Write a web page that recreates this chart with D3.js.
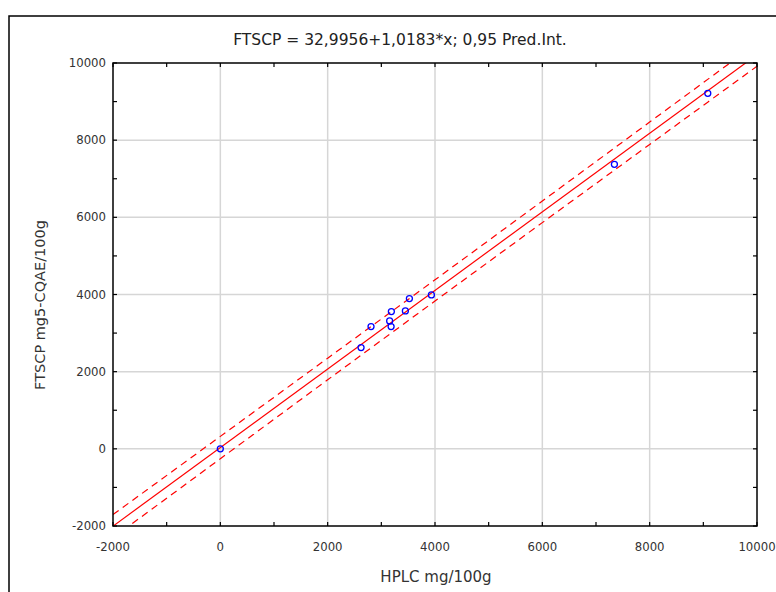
<!DOCTYPE html>
<html>
<head>
<meta charset="utf-8">
<title>FTSCP vs HPLC</title>
<script src="https://cdnjs.cloudflare.com/ajax/libs/d3/7.8.5/d3.min.js"></script>
<style>
  body { margin: 0; background: #fff; }
  text { font-family: "DejaVu Sans Condensed", "DejaVu Sans", sans-serif; }
  .lbl { font-family: "DejaVu Sans", sans-serif; }
</style>
</head>
<body>
<svg id="chart" width="776" height="592"></svg>
<script>
// measured points (HPLC, FTSCP)
var hplc  = [0, 2622, 2808, 3155, 3182, 3187, 3448, 3523, 3933, 7343, 9083];
var ftscp = [0, 2624, 3168, 3316, 3168, 3557, 3575, 3894, 3990, 7375, 9215];

// regression from the title
var intercept = 32.9956, slope = 1.0183;

// prediction band
var piX     = [-2000, 0, 2000, 4000, 6000, 8000, 10000];
var piUpper = [-1704, 323, 2350, 4381, 6423, 8469, 10516];
var piLower = [-2304, -257, 1790, 3831, 5863, 7889, 9916];

var xTicks = [-2000, 0, 2000, 4000, 6000, 8000, 10000];
var yTicks = [-2000, 0, 2000, 4000, 6000, 8000, 10000];
var minorTicks = [-1000, 1000, 3000, 5000, 7000, 9000];

var svg = d3.select("#chart");
var m = {left: 113, right: 757, top: 63, bottom: 526};

var x = d3.scaleLinear().domain([-2000, 10000]).range([m.left, m.right]);
var y = d3.scaleLinear().domain([-2000, 10000]).range([m.bottom, m.top]);

// outer frame
svg.append("rect")
  .attr("x", 9).attr("y", 16)
  .attr("width", 790).attr("height", 600)
  .attr("fill", "none").attr("stroke", "#000").attr("stroke-width", 1.5);

svg.append("text")
  .attr("class", "lbl")
  .attr("x", 400).attr("y", 45)
  .attr("text-anchor", "middle")
  .attr("font-size", 15.5)
  .attr("fill", "#222")
  .text("FTSCP = 32,9956+1,0183*x; 0,95 Pred.Int.");

// grid
var grid = svg.append("g").attr("stroke", "#d6d6d6").attr("stroke-width", 1.5);
grid.selectAll("line.gx").data(xTicks.slice(1, -1)).enter().append("line")
  .attr("x1", d => x(d)).attr("x2", d => x(d))
  .attr("y1", m.top).attr("y2", m.bottom);
grid.selectAll("line.gy").data(yTicks.slice(1, -1)).enter().append("line")
  .attr("y1", d => y(d)).attr("y2", d => y(d))
  .attr("x1", m.left).attr("x2", m.right);

// inner ticks on all four sides
var tk = svg.append("g").attr("stroke", "#000").attr("stroke-width", 1.2);
var allT = xTicks.concat(minorTicks);
tk.selectAll("line.tt").data(allT).enter().append("line")
  .attr("x1", d => x(d)).attr("x2", d => x(d)).attr("y1", m.top).attr("y2", m.top + 4);
tk.selectAll("line.tb").data(allT).enter().append("line")
  .attr("x1", d => x(d)).attr("x2", d => x(d)).attr("y1", m.bottom).attr("y2", m.bottom - 4);
tk.selectAll("line.tl").data(allT).enter().append("line")
  .attr("y1", d => y(d)).attr("y2", d => y(d)).attr("x1", m.left).attr("x2", m.left + 4);
tk.selectAll("line.tr").data(allT).enter().append("line")
  .attr("y1", d => y(d)).attr("y2", d => y(d)).attr("x1", m.right).attr("x2", m.right - 4);

// clip
svg.append("clipPath").attr("id", "clip")
  .append("rect").attr("x", m.left).attr("y", m.top)
  .attr("width", m.right - m.left).attr("height", m.bottom - m.top);

var plot = svg.append("g").attr("clip-path", "url(#clip)");

var line = d3.line().x(d => x(d[0])).y(d => y(d[1]));
var fitX = [-2000, 10000];
plot.append("path")
  .datum(fitX.map(v => [v, intercept + slope * v]))
  .attr("d", line)
  .attr("fill", "none").attr("stroke", "#ff0000").attr("stroke-width", 1.2);

var band = d3.line().x(d => x(d[0])).y(d => y(d[1])).curve(d3.curveMonotoneX);
[piUpper, piLower].forEach(function(arr) {
  plot.append("path")
    .datum(piX.map((v, i) => [v, arr[i]]))
    .attr("d", band)
    .attr("fill", "none").attr("stroke", "#ff0000").attr("stroke-width", 1.2)
    .attr("stroke-dasharray", "7,5");
});

plot.selectAll("circle.pt").data(hplc).enter().append("circle")
  .attr("cx", d => x(d))
  .attr("cy", (d, i) => y(ftscp[i]))
  .attr("r", 3)
  .attr("fill", "none").attr("stroke", "#0000ff").attr("stroke-width", 1.3);

// plot frame
svg.append("rect")
  .attr("x", m.left).attr("y", m.top)
  .attr("width", m.right - m.left).attr("height", m.bottom - m.top)
  .attr("fill", "none").attr("stroke", "#000").attr("stroke-width", 1.5);

// tick labels
svg.selectAll("text.xl").data(xTicks).enter().append("text")
  .attr("x", d => x(d)).attr("y", 551)
  .attr("text-anchor", "middle").attr("font-size", 13).attr("fill", "#333")
  .text(d => d);
svg.selectAll("text.yl").data(yTicks).enter().append("text")
  .attr("x", 106).attr("y", d => y(d) + 4)
  .attr("text-anchor", "end").attr("font-size", 13).attr("fill", "#333")
  .text(d => d);

svg.append("text")
  .attr("class", "lbl")
  .attr("x", 436).attr("y", 582)
  .attr("text-anchor", "middle").attr("font-size", 15).attr("fill", "#333")
  .text("HPLC mg/100g");

svg.append("text")
  .attr("class", "lbl")
  .attr("transform", "translate(45,305) rotate(-90)")
  .attr("text-anchor", "middle").attr("font-size", 14.5).attr("fill", "#333")
  .text("FTSCP mg5-CQAE/100g");
</script>
</body>
</html>
